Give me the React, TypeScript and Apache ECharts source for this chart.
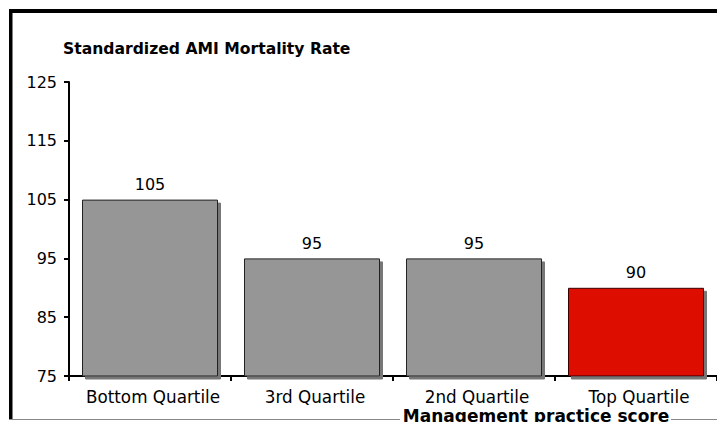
import React, { useEffect, useRef } from "react";
import * as echarts from "echarts";

const categories = ["Bottom Quartile", "3rd Quartile", "2nd Quartile", "Top Quartile"];
const values = [105, 95, 95, 90];
const yMin = 75;
const yMax = 125;
const yStep = 10;
const chartTitle = "Standardized AMI Mortality Rate";
const xAxisTitle = "Management practice score";

const FONT = "'DejaVu Sans', Verdana, sans-serif";

export default function App() {
  const ref = useRef<HTMLDivElement>(null);
  useEffect(() => {
    if (!ref.current) return;
    const chart = echarts.init(ref.current, null, { renderer: "svg" });
    const gray = "#969696";
    const red = "#dd0806";
    chart.setOption({
      animation: false,
      backgroundColor: "#ffffff",
      textStyle: { fontFamily: FONT },
      grid: { left: 69, top: 82, width: 650, height: 294, containLabel: false },
      xAxis: {
        type: "category",
        data: categories,
        boundaryGap: true,
        axisLine: { show: true, lineStyle: { color: "#000", width: 2 } },
        axisTick: { show: true, length: 5, inside: false, lineStyle: { color: "#000", width: 2 } },
        axisLabel: {
          color: "#000",
          fontSize: 16.8,
          fontFamily: FONT,
          margin: 12,
          interval: 0,
          padding: [0, 0, 0, 6],
        },
        splitLine: { show: false },
      },
      yAxis: {
        type: "value",
        min: yMin,
        max: yMax,
        interval: yStep,
        axisLine: { show: true, lineStyle: { color: "#000", width: 2 } },
        axisTick: { show: true, length: 5, inside: false, lineStyle: { color: "#000", width: 2 } },
        axisLabel: { color: "#000", fontSize: 16, fontFamily: FONT, margin: 12 },
        splitLine: { show: false },
      },
      series: [
        {
          type: "bar",
          barWidth: 136,
          data: values.map((v, i) => ({
            value: v,
            itemStyle: {
              color: i === values.length - 1 ? red : gray,
              borderColor: i === values.length - 1 ? "#3a0000" : "#222",
              borderWidth: 1,
              shadowColor: "#777777",
              shadowOffsetX: 3,
              shadowOffsetY: 3,
              shadowBlur: 0,
            },
          })),
          label: {
            show: true,
            position: "top",
            distance: 7,
            color: "#000",
            fontSize: 16,
            fontFamily: FONT,
          },
        },
      ],
      graphic: [
        { type: "rect", shape: { x: 9, y: 9, width: 708, height: 4 }, style: { fill: "#000" }, silent: true },
        { type: "rect", shape: { x: 9, y: 9, width: 3.5, height: 411 }, style: { fill: "#000" }, silent: true },
        { type: "line", shape: { x1: 9, y1: 419.5, x2: 400, y2: 419.5 }, style: { stroke: "#888", lineWidth: 1 }, silent: true },
        { type: "line", shape: { x1: 671, y1: 419.5, x2: 717, y2: 419.5 }, style: { stroke: "#888", lineWidth: 1 }, silent: true },
        {
          type: "text",
          x: 63,
          y: 49,
          style: { text: chartTitle, fill: "#000", font: `bold 15.6px ${FONT}`, align: "left", verticalAlign: "middle" },
          silent: true,
        },
        {
          type: "text",
          x: 536,
          y: 415.5,
          style: { text: xAxisTitle, fill: "#000", font: `bold 17px ${FONT}`, align: "center", verticalAlign: "middle" },
          silent: true,
        },
      ],
    });
    return () => chart.dispose();
  }, []);
  return <div ref={ref} style={{ position: "absolute", left: 0, top: 0, width: 717, height: 422 }} />;
}
